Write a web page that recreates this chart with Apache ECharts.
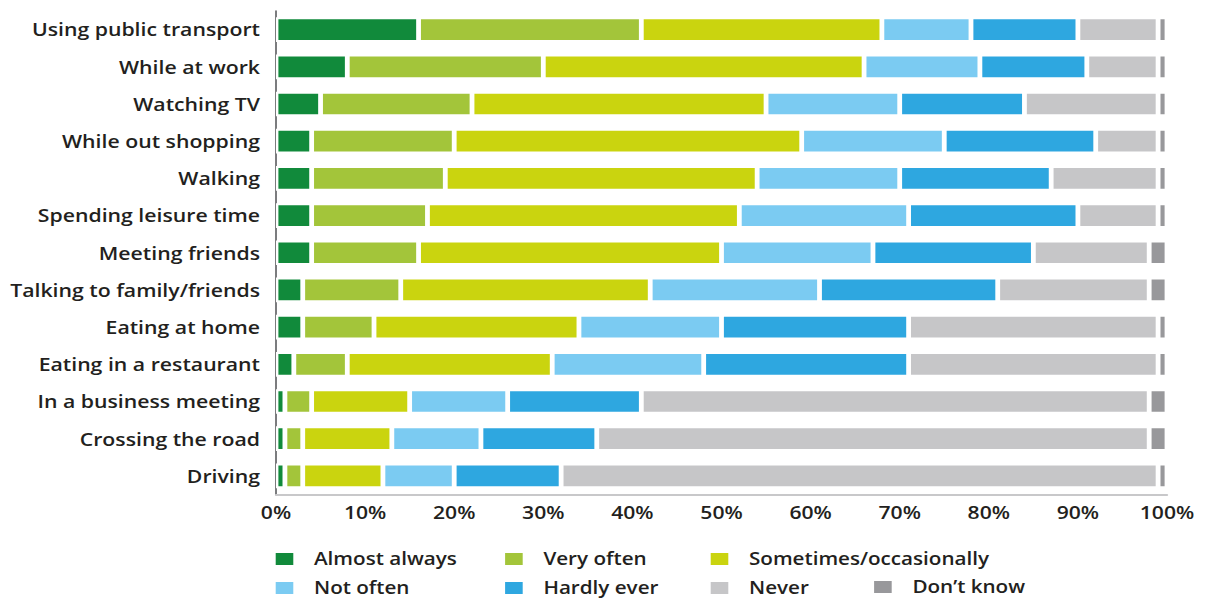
<!DOCTYPE html>
<html>
<head>
<meta charset="utf-8">
<script src="https://cdn.jsdelivr.net/npm/echarts@6/dist/echarts.min.js"></script>
<style>
  html, body { margin: 0; padding: 0; background: #fff; overflow: hidden; }
  #chart { height: 599px; transform-origin: 0 0; }
</style>
</head>
<body>
<div id="chart"></div>
<script>
// Share of respondents (%) by activity and frequency of use
const categories = [
  'Using public transport', 'While at work', 'Watching TV', 'While out shopping',
  'Walking', 'Spending leisure time', 'Meeting friends', 'Talking to family/friends',
  'Eating at home', 'Eating in a restaurant', 'In a business meeting',
  'Crossing the road', 'Driving'
];
const seriesNames = [
  'Almost always', 'Very often', 'Sometimes/occasionally',
  'Not often', 'Hardly ever', 'Never', 'Don\u2019t know'
];
const almostAlways = [16, 8, 5, 4, 4, 4, 4, 3, 3, 2, 1, 1, 1];
const veryOften    = [25, 22, 17, 16, 15, 13, 12, 11, 8, 6, 3, 2, 2];
const sometimes    = [27, 36, 33, 39, 35, 35, 34, 28, 23, 23, 11, 10, 9];
const notOften     = [10, 13, 15, 16, 16, 19, 17, 19, 16, 17, 11, 10, 8];
const hardlyEver   = [12, 12, 14, 17, 17, 19, 18, 20, 21, 23, 15, 13, 12];
const never        = [9, 8, 15, 7, 12, 9, 13, 17, 28, 28, 57, 62, 67];
const dontKnow     = [1, 1, 1, 1, 1, 1, 2, 2, 1, 1, 2, 2, 1];
const xTicks = [0, 10, 20, 30, 40, 50, 60, 70, 80, 90, 100];

const seriesValues = [almostAlways, veryOften, sometimes, notOften, hardlyEver, never, dontKnow];
const seriesColors = ['#118a3b', '#a3c53a', '#cad40f', '#7bcbf2', '#2ea7e0', '#c6c6c8', '#98989b'];

// The drawing is laid out in a narrower box and widened horizontally,
// which gives the lettering its broad proportions.
const SX = 1.2;
const W = 1206 / SX;
const px = v => v / SX;

const el = document.getElementById('chart');
el.style.width = W + 'px';
el.style.transform = 'scaleX(' + SX + ')';

const FONT = "'Open Sans', 'Noto Sans', sans-serif";
const TEXT = '#231f20';

// Legend in three two-row columns plus a single item under the third one
const legendCommon = {
  orient: 'vertical',
  top: 550.5,
  height: 60,
  padding: 0,
  itemGap: 12,
  itemWidth: px(20),
  itemHeight: 14,
  icon: 'rect',
  selectedMode: false,
  textStyle: {
    fontFamily: FONT, fontSize: 17.2, fontWeight: 600, color: TEXT,
    lineHeight: 16,
    padding: [0, 0, 0, px(19.5) - 5]
  }
};

const chart = echarts.init(el, null, { renderer: 'svg', width: W, height: 599 });
chart.setOption({
  animation: false,
  backgroundColor: '#fff',
  grid: { left: px(276), right: W - px(1167), top: 11, bottom: 599 - 494.5 },
  legend: [
    Object.assign({}, legendCommon, { left: px(273.3), data: [seriesNames[0], seriesNames[3]] }),
    Object.assign({}, legendCommon, { left: px(502.7), data: [seriesNames[1], seriesNames[4]] }),
    Object.assign({}, legendCommon, { left: px(708.3), data: [seriesNames[2], seriesNames[5]] }),
    Object.assign({}, legendCommon, { left: px(871.7), top: 578.5, data: [seriesNames[6]] })
  ],
  xAxis: {
    type: 'value',
    min: xTicks[0],
    max: xTicks[xTicks.length - 1],
    interval: xTicks[1] - xTicks[0],
    axisLine: { show: true, lineStyle: { color: '#c8c8ca', width: 2 } },
    axisTick: { show: false },
    splitLine: { show: false },
    axisLabel: {
      formatter: '{value}%', margin: 9,
      fontFamily: FONT, fontSize: 17.6, fontWeight: 600, color: TEXT
    }
  },
  yAxis: {
    type: 'category',
    data: categories,
    inverse: true,
    axisLine: { show: true, lineStyle: { color: '#6d6e71', width: 1.5 } },
    axisTick: { show: false },
    axisLabel: {
      margin: px(16), fontFamily: FONT, fontSize: 17.7, fontWeight: 600, color: TEXT
    }
  },
  series: seriesNames.map((name, i) => ({
    name: name,
    type: 'bar',
    stack: 'total',
    barWidth: 24.7,
    data: seriesValues[i],
    itemStyle: { color: seriesColors[i], borderColor: '#ffffff', borderWidth: 2 },
    emphasis: { disabled: true }
  }))
});
</script>
</body>
</html>
